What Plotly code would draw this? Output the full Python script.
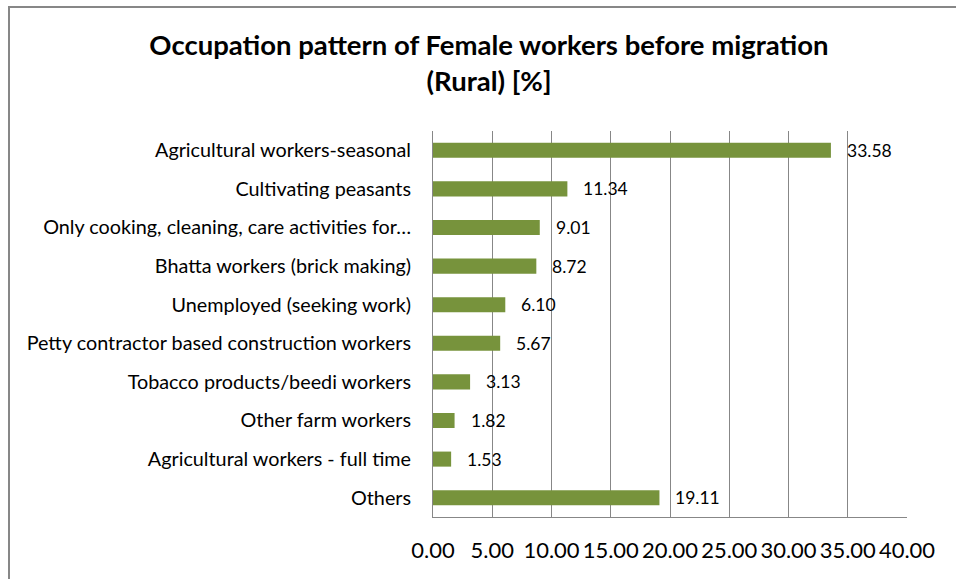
import plotly.graph_objects as go

categories = [
    "Agricultural workers-seasonal",
    "Cultivating peasants",
    "Only cooking, cleaning, care activities for…",
    "Bhatta workers (brick making)",
    "Unemployed (seeking work)",
    "Petty contractor based construction workers",
    "Tobacco products/beedi workers",
    "Other farm workers",
    "Agricultural workers - full time",
    "Others",
]
values = [33.58, 11.34, 9.01, 8.72, 6.10, 5.67, 3.13, 1.82, 1.53, 19.11]
tick_vals = [0, 5, 10, 15, 20, 25, 30, 35, 40]
tick_text = ["0.00", "5.00", "10.00", "15.00", "20.00", "25.00", "30.00", "35.00", "40.00"]
title_text = "Occupation pattern of Female workers before migration<br>(Rural) [%]"

W, H = 956, 579
L, R, T, B = 433, 49, 131, 62

FONT = "Lato, 'Open Sans', sans-serif"
GRID = "#878787"

fig = go.Figure()
fig.add_trace(go.Bar(
    y=categories,
    x=values,
    orientation="h",
    marker=dict(color="#77933C", line=dict(width=0)),
    hoverinfo="x+y",
))

for c, v in zip(categories, values):
    fig.add_annotation(
        x=v, y=c, xref="x", yref="y",
        text=f"{v:.2f}", showarrow=False,
        xanchor="left", yanchor="middle", xshift=14,
        font=dict(family=FONT, size=17.5, color="#000000"),
    )

pw = W - L - R
ph = H - T - B
def px2x(p):
    return (p - L) / pw
def py2y(p):
    return (H - B - p) / ph

fig.add_shape(type="rect", xref="paper", yref="paper",
              x0=px2x(9), x1=px2x(W + 10), y0=py2y(H + 10), y1=py2y(7),
              line=dict(color="#878787", width=2), fillcolor="rgba(0,0,0,0)", layer="below")

fig.update_layout(
    width=W, height=H,
    margin=dict(l=L, r=R, t=T, b=B, autoexpand=False),
    paper_bgcolor="white",
    plot_bgcolor="white",
    showlegend=False,
    bargap=0.61,
    title=dict(
        text=title_text,
        x=489 / W, xanchor="center",
        y=1 - 55 / H, yanchor="middle",
        font=dict(family=FONT, size=27.5, color="#000000", weight="bold"),
    ),
    xaxis=dict(
        range=[0, 40],
        tickvals=tick_vals,
        ticktext=tick_text,
        tickangle=0,
        automargin=False,
        showgrid=True, gridcolor=GRID, gridwidth=1,
        showline=True, linecolor=GRID, linewidth=1, mirror=False,
        zeroline=False,
        ticks="",
        ticklabelstandoff=14,
        tickfont=dict(family=FONT, size=22, color="#000000"),
        fixedrange=True,
    ),
    yaxis=dict(
        autorange="reversed",
        automargin=False,
        showgrid=False,
        showline=True, linecolor=GRID, linewidth=1,
        ticks="",
        ticklabelstandoff=17,
        tickfont=dict(family=FONT, size=19.8, color="#000000"),
        fixedrange=True,
    ),
)

fig.write_html(
    "out.html",
    config={"displayModeBar": False},
    post_script="document.body.style.margin='0';document.body.style.overflow='hidden';",
)
